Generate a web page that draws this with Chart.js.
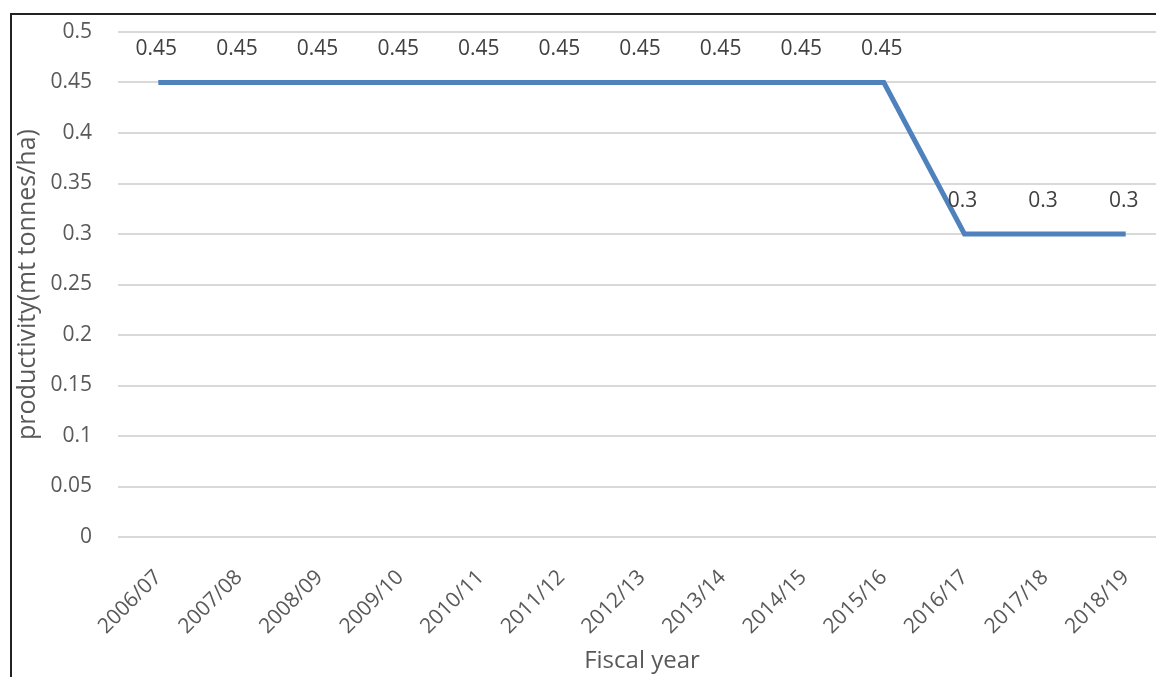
<!DOCTYPE html>
<html>
<head>
<meta charset="utf-8">
<script src="https://cdn.jsdelivr.net/npm/chart.js@4/dist/chart.umd.min.js"></script>
<style>
  html, body { margin: 0; padding: 0; background: #fff; overflow: hidden; }
  #wrap { position: absolute; left: 0; top: 0; width: 1166px; height: 677px; }
  #frame { position: absolute; left: 10px; top: 13px; width: 1200px; height: 700px;
           border-left: 2px solid #222; border-top: 2px solid #222; pointer-events: none; }
</style>
</head>
<body>
<div id="wrap"><canvas id="chart"></canvas></div>
<div id="frame"></div>
<script>
// fiscal years on the x axis
const fiscalYears = ['2006/07', '2007/08', '2008/09', '2009/10', '2010/11', '2011/12', '2012/13',
  '2013/14', '2014/15', '2015/16', '2016/17', '2017/18', '2018/19'];
// productivity in mt tonnes per hectare
const productivity = [0.45, 0.45, 0.45, 0.45, 0.45, 0.45, 0.45, 0.45, 0.45, 0.45, 0.3, 0.3, 0.3];

const textColor = '#595959';
const fontFamily = '"Open Sans", "Noto Sans", sans-serif';

/**
 * Write each value above its point, like Excel data labels
 */
const pointLabels = {
  id: 'pointLabels',
  afterDatasetsDraw(chart) {
    const ctx = chart.ctx;
    const meta = chart.getDatasetMeta(0);
    ctx.save();
    ctx.font = '21px ' + fontFamily;
    ctx.fillStyle = '#404040';
    ctx.textAlign = 'center';
    ctx.textBaseline = 'middle';
    meta.data.forEach((pt, i) => {
      ctx.fillText(String(productivity[i]), pt.x - 2, pt.y - 33);
    });
    ctx.restore();
  }
};

new Chart(document.getElementById('chart'), {
  type: 'line',
  plugins: [pointLabels],
  data: {
    labels: fiscalYears,
    datasets: [{
      data: productivity,
      borderColor: '#4f81bd',
      borderWidth: 5,
      pointRadius: 0,
      tension: 0,
      fill: false
    }]
  },
  options: {
    responsive: true,
    maintainAspectRatio: false,
    animation: false,
    layout: {padding: {top: 32, right: 0, bottom: 0, left: 0}},
    plugins: {legend: {display: false}, tooltip: {enabled: false}},
    scales: {
      x: {
        offset: true,
        grid: {display: false, drawTicks: false},
        border: {display: false},
        ticks: {
          color: textColor,
          font: {size: 21, family: fontFamily},
          minRotation: 45,
          maxRotation: 45,
          padding: 28,
          autoSkip: false
        },
        title: {
          display: true,
          text: 'Fiscal year',
          color: textColor,
          font: {size: 24, family: fontFamily},
          padding: {top: 0, bottom: 1}
        },
        afterFit(scale) {
          scale.height = 140;
          scale.paddingLeft = 0;
          scale.paddingRight = 0;
        }
      },
      y: {
        min: 0,
        max: 0.5,
        grid: {color: '#d9d9d9', lineWidth: 2, drawTicks: false},
        border: {display: false},
        ticks: {
          stepSize: 0.05,
          color: textColor,
          font: {size: 21, family: fontFamily},
          padding: 26,
          callback: v => String(Math.round(v * 100) / 100)
        },
        title: {
          display: true,
          text: 'productivity(mt tonnes/ha)',
          color: textColor,
          font: {size: 25, family: fontFamily},
          padding: {top: 13, bottom: 0}
        },
        afterFit(scale) {
          scale.width = 118;
          scale.paddingTop = 0;
          scale.paddingBottom = 0;
        }
      }
    }
  }
});
</script>
</body>
</html>
